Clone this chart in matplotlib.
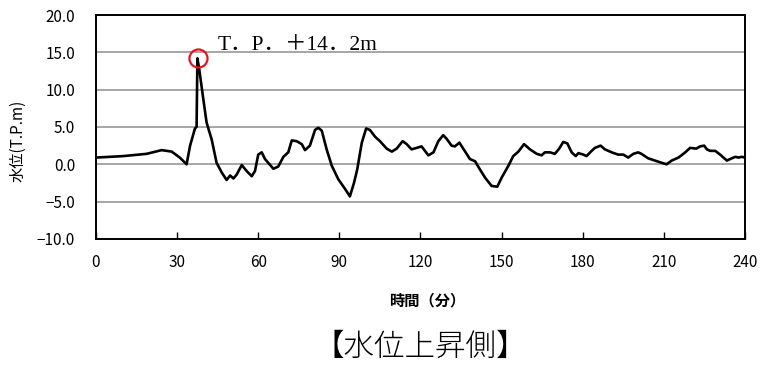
import matplotlib
matplotlib.use('Agg')
import matplotlib.pyplot as plt

# time (min) and water level (T.P. m)
time = [0, 10.1, 18.7, 24.3, 28, 31, 33.5, 34.8, 36.6, 37.2, 37.5, 38.2, 39.7,
        40.9, 42.8, 44.6, 46.5, 48.3, 49.6, 50.8, 52, 53.9, 55.7, 57.6, 58.8,
        60, 61.3, 62.5, 65.6, 67.4, 69.3, 71.1, 72.4, 74.2, 76.1, 77.3, 79.1,
        81, 82.2, 83.5, 85.3, 87.2, 89.6, 92.1, 93.9, 95.4, 96.6, 98.3, 99.9,
        101.3, 103.2, 105, 107.5, 109.4, 111.2, 113.4, 114.9, 116.7, 118.6,
        120.4, 122.9, 124.8, 126.6, 128.4, 129.7, 131.5, 132.7, 134.4, 135.8,
        138.3, 140.2, 142, 143.9, 146.3, 148.4, 150, 152.5, 154.3, 156.2,
        158.3, 160.5, 163, 164.8, 166, 167.9, 169.7, 171.3, 172.8, 174.3,
        175.9, 177.4, 178.4, 180.2, 181.4, 183.3, 184.5, 186.6, 188.2, 190.7,
        193.1, 195, 196.8, 198.7, 200.5, 201.7, 204.2, 206.7, 209.2, 211,
        212.9, 215.4, 217.9, 219.7, 222, 223.4, 224.9, 225.9, 227.1, 229,
        230.8, 233.3, 234.5, 236.4, 237.6, 238.8, 240]
level = [0.9, 1.1, 1.4, 1.9, 1.7, 0.9, 0.0, 2.5, 4.8, 5.0, 14.2, 12.7, 8.7,
         5.6, 3.3, 0.2, -1.1, -2.1, -1.5, -1.9, -1.4, -0.1, -0.9, -1.6, -0.9,
         1.3, 1.6, 0.7, -0.6, -0.3, 1.0, 1.6, 3.2, 3.1, 2.7, 1.9, 2.5,
         4.6, 4.9, 4.5, 2.0, -0.2, -2.0, -3.3, -4.3, -2.5, -0.7, 2.9, 4.8,
         4.6, 3.7, 3.1, 2.1, 1.7, 2.1, 3.1, 2.7, 2.0, 2.2,
         2.4, 1.2, 1.6, 3.1, 3.9, 3.4, 2.5, 2.4, 2.9, 2.1,
         0.7, 0.4, -0.7, -1.8, -2.9, -3.0, -1.8, -0.2, 1.1, 1.7,
         2.7, 2.0, 1.4, 1.2, 1.6, 1.6, 1.4, 2.1, 3.0, 2.8,
         1.6, 1.1, 1.5, 1.3, 1.1, 1.8, 2.2, 2.5, 2.0, 1.6,
         1.3, 1.3, 0.9, 1.4, 1.6, 1.4, 0.8, 0.5, 0.2, 0.0,
         0.5, 0.9, 1.6, 2.2, 2.1, 2.4, 2.5, 2.0, 1.8, 1.8,
         1.3, 0.5, 0.7, 1.0, 0.9, 1.0, 0.9]

peak_t = 37.6
peak_v = 14.2
peak_label = 'T．P．＋14．2m'

xticks = [0, 30, 60, 90, 120, 150, 180, 210, 240]
yticks = [-10, -5, 0, 5, 10, 15, 20]

sans = ['Noto Sans CJK JP', 'DejaVu Sans']
serif = ['Liberation Serif', 'Noto Sans CJK JP']

fig = plt.figure(figsize=(7.63, 3.67), dpi=100)
ax = fig.add_axes([0.1258, 0.349, 0.8506, 0.61])

ax.plot(time, level, color='black', lw=1.9, solid_joinstyle='round', zorder=3)
ax.plot([peak_t], [peak_v], marker='o', ms=13, mfc='none', mec='#e8141b',
        mew=1.6, zorder=4)
ax.text(peak_t + 7.5, peak_v + 0.4, peak_label, family=serif, fontsize=15.5,
        va='bottom', ha='left')

ax.set_xlim(0, 240)
ax.set_ylim(-10, 20)
ax.set_xticks(xticks)
ax.set_yticks(yticks)
ax.set_yticklabels([('%.1f' % v).replace('-', '\u2212') for v in yticks],
                   family=sans, fontsize=11)
ax.set_xticklabels([str(v) for v in xticks], family=sans, fontsize=11)
ax.tick_params(axis='x', direction='in', length=5, width=1, pad=11)
ax.tick_params(axis='y', length=0, pad=15)
ax.grid(axis='y', color='#a6a6a6', lw=1.4)
ax.set_axisbelow(True)
for s in ax.spines.values():
    s.set_linewidth(1.4)
    s.set_color('black')

ax.set_ylabel('水位(T.P.m)', family=sans, fontsize=11)
ax.yaxis.set_label_coords(-0.107, 0.4375)
ax.set_xlabel('時間（分）', family=sans, fontsize=11, fontweight='bold')
ax.xaxis.set_label_coords(0.51, -0.24)

fig.text(0.551, 0.055, '【水位上昇側】', family=sans, fontsize=22,
         fontweight='light', ha='center', va='center')

fig.savefig('out.png', dpi=100)
